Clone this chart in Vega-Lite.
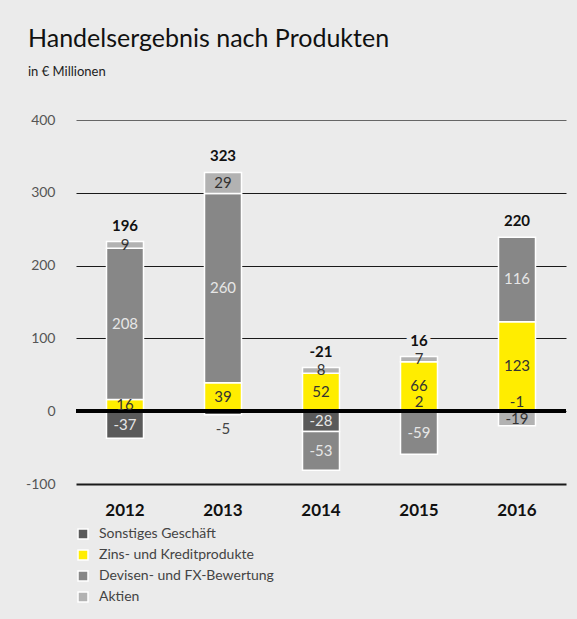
{
  "$schema": "https://vega.github.io/schema/vega-lite/v6.json",
  "width": 490,
  "height": 364,
  "autosize": {"type": "none"},
  "padding": {"left": 76, "top": 120, "right": 11, "bottom": 135},
  "background": "#ebebeb",
  "title": {
    "text": "Handelsergebnis nach Produkten",
    "subtitle": "in € Millionen",
    "anchor": "start",
    "frame": "group",
    "dx": -48,
    "offset": 34,
    "font": "Lato",
    "fontSize": 25,
    "fontWeight": "normal",
    "color": "#111111",
    "subtitleFont": "Lato",
    "subtitleFontSize": 13,
    "subtitleColor": "#222222",
    "subtitlePadding": 14
  },
  "config": {"view": {"stroke": null}, "font": "Lato"},
  "datasets": {
    "main": [
      {"year": "2012", "cat": "Sonstiges Geschäft", "value": -37},
      {"year": "2012", "cat": "Zins- und Kreditprodukte", "value": 16},
      {"year": "2012", "cat": "Devisen- und FX-Bewertung", "value": 208},
      {"year": "2012", "cat": "Aktien", "value": 9},
      {"year": "2013", "cat": "Sonstiges Geschäft", "value": -5},
      {"year": "2013", "cat": "Zins- und Kreditprodukte", "value": 39},
      {"year": "2013", "cat": "Devisen- und FX-Bewertung", "value": 260},
      {"year": "2013", "cat": "Aktien", "value": 29},
      {"year": "2014", "cat": "Sonstiges Geschäft", "value": -28},
      {"year": "2014", "cat": "Zins- und Kreditprodukte", "value": 52},
      {"year": "2014", "cat": "Devisen- und FX-Bewertung", "value": -53},
      {"year": "2014", "cat": "Aktien", "value": 8},
      {"year": "2015", "cat": "Sonstiges Geschäft", "value": 2},
      {"year": "2015", "cat": "Zins- und Kreditprodukte", "value": 66},
      {"year": "2015", "cat": "Devisen- und FX-Bewertung", "value": -59},
      {"year": "2015", "cat": "Aktien", "value": 7},
      {"year": "2016", "cat": "Sonstiges Geschäft", "value": -1},
      {"year": "2016", "cat": "Zins- und Kreditprodukte", "value": 123},
      {"year": "2016", "cat": "Devisen- und FX-Bewertung", "value": 116},
      {"year": "2016", "cat": "Aktien", "value": -19}
    ],
    "totals": [
      {"year": "2012", "total": 196},
      {"year": "2013", "total": 323},
      {"year": "2014", "total": -21},
      {"year": "2015", "total": 16},
      {"year": "2016", "total": 220}
    ]
  },
  "data": {"name": "main"},
  "transform": [
    {"calculate": "indexof(['Sonstiges Geschäft','Zins- und Kreditprodukte','Devisen- und FX-Bewertung','Aktien'], datum.cat)", "as": "k"},
    {"stack": "value", "groupby": ["year"], "sort": [{"field": "k", "order": "ascending"}], "as": ["v0", "v1"]},
    {"calculate": "(datum.v0 + datum.v1) / 2", "as": "mid"},
    {"calculate": "'' + datum.value", "as": "lbl"}
  ],
  "layer": [
    {
      "mark": {"type": "bar", "width": 37, "stroke": "#ffffff", "strokeWidth": 1.5},
      "encoding": {
        "x": {
          "field": "year", "type": "nominal",
          "scale": {"paddingInner": 0, "paddingOuter": 0},
          "axis": {"title": null, "domain": false, "ticks": false, "tickSize": 0, "labelAngle": 0, "labelPadding": 18, "labelFont": "Lato", "labelFontSize": 17, "labelFontWeight": "bold", "labelColor": "#111111"}
        },
        "y": {
          "field": "v0", "type": "quantitative",
          "scale": {"domain": [-100, 400], "nice": false, "zero": false},
          "axis": {
            "title": null, "values": [-100, 0, 100, 200, 300, 400], "domain": false, "ticks": false, "tickSize": 0,
            "labelExpr": "'' + datum.value",
            "labelPadding": 21, "labelFontSize": 14, "labelColor": "#555555", "labelFont": "Lato",
            "grid": true,
            "gridColor": {"condition": {"test": "datum.value === 400", "value": "#666666"}, "value": "#1a1a1a"},
            "gridWidth": {"condition": {"test": "datum.value === -100", "value": 2.2}, "value": 1}
          }
        },
        "y2": {"field": "v1"},
        "color": {
          "field": "cat", "type": "nominal",
          "scale": {
            "domain": ["Sonstiges Geschäft", "Zins- und Kreditprodukte", "Devisen- und FX-Bewertung", "Aktien"],
            "range": ["#5a5a5a", "#ffed00", "#878787", "#b2b2b2"]
          },
          "legend": {
            "title": null, "orient": "none", "legendX": 0, "legendY": 407, "direction": "vertical",
            "symbolType": "square", "symbolSize": 100, "labelFont": "Lato", "labelFontSize": 14, "labelColor": "#444444",
            "rowPadding": 5, "labelOffset": 9, "labelLimit": 400
          }
        }
      }
    },
    {
      "mark": {"type": "rule", "strokeWidth": 3, "color": "#000000"},
      "encoding": {"y": {"datum": 0}}
    },
    {
      "transform": [{"filter": "!(datum.cat === 'Sonstiges Geschäft' && abs(datum.value) < 10)"}],
      "mark": {"type": "text", "fontSize": 15, "baseline": "middle", "align": "center", "font": "Lato"},
      "encoding": {
        "x": {"field": "year", "type": "nominal"},
        "y": {"field": "mid", "type": "quantitative"},
        "text": {"field": "lbl", "type": "nominal"},
        "color": {
          "condition": {"test": "datum.cat === 'Sonstiges Geschäft' || datum.cat === 'Devisen- und FX-Bewertung'", "value": "#e6e6e6"},
          "value": "#333333"
        }
      }
    },
    {
      "transform": [{"filter": "datum.cat === 'Sonstiges Geschäft' && datum.value > -3 && datum.value < 10"}],
      "mark": {"type": "text", "fontSize": 15, "baseline": "middle", "align": "center", "font": "Lato", "dy": -9, "color": "#333333"},
      "encoding": {
        "x": {"field": "year", "type": "nominal"},
        "y": {"datum": 0},
        "text": {"field": "lbl", "type": "nominal"}
      }
    },
    {
      "transform": [{"filter": "datum.cat === 'Sonstiges Geschäft' && datum.value <= -3 && datum.value > -10"}],
      "mark": {"type": "text", "fontSize": 15, "baseline": "middle", "align": "center", "font": "Lato", "dy": 18, "color": "#444444"},
      "encoding": {
        "x": {"field": "year", "type": "nominal"},
        "y": {"datum": 0},
        "text": {"field": "lbl", "type": "nominal"}
      }
    },
    {
      "transform": [
        {"aggregate": [{"op": "max", "field": "v1", "as": "top"}], "groupby": ["year"]},
        {"lookup": "year", "from": {"data": {"name": "totals"}, "key": "year", "fields": ["total"]}},
        {"calculate": "'' + datum.total", "as": "tl"}
      ],
      "mark": {"type": "text", "fontSize": 15, "fontWeight": "bold", "baseline": "middle", "align": "center", "font": "Lato", "dy": -16, "color": "#ebebeb", "stroke": "#ebebeb", "strokeWidth": 8},
      "encoding": {
        "x": {"field": "year", "type": "nominal"},
        "y": {"field": "top", "type": "quantitative"},
        "text": {"field": "tl", "type": "nominal"}
      }
    },
    {
      "transform": [
        {"aggregate": [{"op": "max", "field": "v1", "as": "top"}], "groupby": ["year"]},
        {"lookup": "year", "from": {"data": {"name": "totals"}, "key": "year", "fields": ["total"]}},
        {"calculate": "'' + datum.total", "as": "tl"}
      ],
      "mark": {"type": "text", "fontSize": 15, "fontWeight": "bold", "baseline": "middle", "align": "center", "font": "Lato", "dy": -16, "color": "#111111"},
      "encoding": {
        "x": {"field": "year", "type": "nominal"},
        "y": {"field": "top", "type": "quantitative"},
        "text": {"field": "tl", "type": "nominal"}
      }
    }
  ]
}
